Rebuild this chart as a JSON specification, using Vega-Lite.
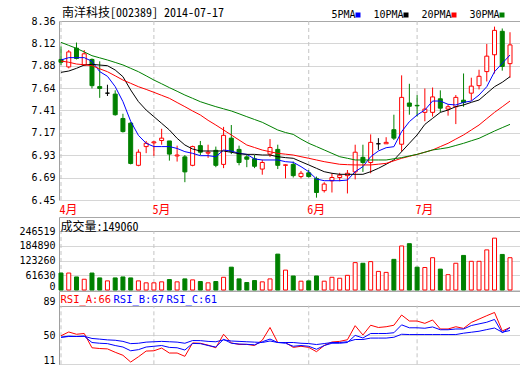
{
  "$schema": "https://vega.github.io/schema/vega-lite/v6.json",
  "width": 461,
  "height": 344,
  "autosize": "none",
  "padding": {"left": 59, "top": 21, "right": 0, "bottom": 0},
  "background": "white",
  "config": {
    "view": {"stroke": null},
    "axis": {"labelFont": "DejaVu Sans Mono", "labelFontSize": 10, "labelColor": "#000000"},
    "legend": {"labelFont": "DejaVu Sans Mono", "labelFontSize": 10}
  },
  "title": {
    "text": "南洋科技[002389] 2014-07-17",
    "anchor": "start",
    "frame": "group",
    "font": "Noto Sans Mono CJK SC, Noto Sans CJK SC",
    "fontSize": 12,
    "fontWeight": "normal",
    "color": "#000000",
    "offset": 4,
    "dx": 3,
    "dy": 14
  },
  "datasets": {
    "m": [
      {"d": "2014-04-15"}, {"d": "2014-05-05"}, {"d": "2014-06-03"}, {"d": "2014-07-01"}
    ],
    "k": [
      {"d":"2014-04-15","o":7.95,"h":8.09,"l":7.89,"c":7.92,"v":71200,"dir":"down","5PMA":7.944,"10PMA":7.812,"20PMA":7.933,"30PMA":8.132,"RSI_A":49,"RSI_B":47,"RSI_C":47},
      {"d":"2014-04-16","o":7.87,"h":8.05,"l":7.855,"c":8.03,"v":71200,"dir":"up","5PMA":7.969,"10PMA":7.826,"20PMA":7.92,"30PMA":8.10,"RSI_A":54,"RSI_B":48.5,"RSI_C":48},
      {"d":"2014-04-17","o":8.07,"h":8.13,"l":7.95,"c":7.96,"v":54800,"dir":"down","5PMA":7.969,"10PMA":7.855,"20PMA":7.901,"30PMA":8.068,"RSI_A":51,"RSI_B":48,"RSI_C":48},
      {"d":"2014-04-18","o":7.89,"h":8.05,"l":7.88,"c":8.01,"v":45200,"dir":"up","5PMA":7.969,"10PMA":7.89,"20PMA":7.893,"30PMA":8.03,"RSI_A":52,"RSI_B":48.5,"RSI_C":48.3},
      {"d":"2014-04-21","o":7.95,"h":7.96,"l":7.64,"c":7.67,"v":71200,"dir":"down","5PMA":7.93,"10PMA":7.898,"20PMA":7.883,"30PMA":7.99,"RSI_A":33,"RSI_B":40,"RSI_C":45.4},
      {"d":"2014-04-22","o":7.66,"h":7.93,"l":7.54,"c":7.64,"v":50700,"dir":"down","5PMA":7.82,"10PMA":7.89,"20PMA":7.85,"30PMA":7.967,"RSI_A":32,"RSI_B":39,"RSI_C":44.5},
      {"d":"2014-04-23","o":7.59,"h":7.68,"l":7.56,"c":7.59,"v":38300,"dir":"flat","5PMA":7.77,"10PMA":7.883,"20PMA":7.819,"30PMA":7.944,"RSI_A":31.5,"RSI_B":38.5,"RSI_C":43.5},
      {"d":"2014-04-24","o":7.58,"h":7.62,"l":7.35,"c":7.36,"v":50700,"dir":"down","5PMA":7.66,"10PMA":7.837,"20PMA":7.775,"30PMA":7.918,"RSI_A":27,"RSI_B":36,"RSI_C":43},
      {"d":"2014-04-25","o":7.32,"h":7.37,"l":7.17,"c":7.18,"v":54800,"dir":"down","5PMA":7.50,"10PMA":7.766,"20PMA":7.73,"30PMA":7.891,"RSI_A":23,"RSI_B":34,"RSI_C":41.5},
      {"d":"2014-04-28","o":7.27,"h":7.28,"l":6.83,"c":6.84,"v":50700,"dir":"down","5PMA":7.29,"10PMA":7.624,"20PMA":7.695,"30PMA":7.855,"RSI_A":14,"RSI_B":29,"RSI_C":38.5},
      {"d":"2014-04-29","o":6.82,"h":6.99,"l":6.81,"c":6.96,"v":38300,"dir":"up","5PMA":7.14,"10PMA":7.50,"20PMA":7.659,"30PMA":7.819,"RSI_A":21,"RSI_B":30.5,"RSI_C":39},
      {"d":"2014-04-30","o":7.02,"h":7.08,"l":6.95,"c":7.055,"v":30100,"dir":"up","5PMA":7.055,"10PMA":7.41,"20PMA":7.63,"30PMA":7.775,"RSI_A":28.6,"RSI_B":34,"RSI_C":40.5},
      {"d":"2014-05-05","o":7.06,"h":7.08,"l":6.92,"c":7.07,"v":30100,"dir":"up","5PMA":7.02,"10PMA":7.339,"20PMA":7.599,"30PMA":7.73,"RSI_A":29,"RSI_B":35,"RSI_C":41},
      {"d":"2014-05-06","o":7.085,"h":7.21,"l":7.04,"c":7.11,"v":34200,"dir":"up","5PMA":7.02,"10PMA":7.268,"20PMA":7.567,"30PMA":7.69,"RSI_A":32.6,"RSI_B":36,"RSI_C":41.5},
      {"d":"2014-05-07","o":7.08,"h":7.08,"l":6.87,"c":6.94,"v":43800,"dir":"down","5PMA":7.02,"10PMA":7.197,"20PMA":7.535,"30PMA":7.649,"RSI_A":26,"RSI_B":33.5,"RSI_C":41},
      {"d":"2014-05-08","o":6.92,"h":7.03,"l":6.86,"c":6.93,"v":34200,"dir":"up","5PMA":7.00,"10PMA":7.108,"20PMA":7.49,"30PMA":7.61,"RSI_A":26,"RSI_B":33,"RSI_C":40.5},
      {"d":"2014-05-09","o":6.91,"h":6.93,"l":6.64,"c":6.75,"v":46600,"dir":"down","5PMA":6.966,"10PMA":7.037,"20PMA":7.446,"30PMA":7.57,"RSI_A":21.6,"RSI_B":30,"RSI_C":39},
      {"d":"2014-05-12","o":6.82,"h":7.03,"l":6.81,"c":7.02,"v":42500,"dir":"up","5PMA":6.948,"10PMA":6.994,"20PMA":7.40,"30PMA":7.535,"RSI_A":39.4,"RSI_B":38.8,"RSI_C":42.6},
      {"d":"2014-05-13","o":7.03,"h":7.08,"l":6.93,"c":6.96,"v":35600,"dir":"down","5PMA":6.923,"10PMA":6.973,"20PMA":7.357,"30PMA":7.499,"RSI_A":39,"RSI_B":38.5,"RSI_C":42.5},
      {"d":"2014-05-14","o":6.95,"h":7.04,"l":6.90,"c":6.96,"v":30100,"dir":"up","5PMA":6.923,"10PMA":6.973,"20PMA":7.30,"30PMA":7.472,"RSI_A":36.5,"RSI_B":36,"RSI_C":41.5},
      {"d":"2014-05-15","o":6.98,"h":7.02,"l":6.80,"c":6.82,"v":35600,"dir":"down","5PMA":6.912,"10PMA":6.973,"20PMA":7.25,"30PMA":7.446,"RSI_A":33,"RSI_B":34,"RSI_C":41},
      {"d":"2014-05-16","o":6.83,"h":7.23,"l":6.79,"c":7.14,"v":53400,"dir":"up","5PMA":6.983,"10PMA":6.973,"20PMA":7.197,"30PMA":7.423,"RSI_A":51,"RSI_B":44.3,"RSI_C":43.5},
      {"d":"2014-05-19","o":7.11,"h":7.25,"l":6.94,"c":6.97,"v":95900,"dir":"down","5PMA":6.973,"10PMA":6.959,"20PMA":7.144,"30PMA":7.40,"RSI_A":39.4,"RSI_B":39,"RSI_C":42},
      {"d":"2014-05-20","o":6.99,"h":7.03,"l":6.82,"c":6.85,"v":46600,"dir":"down","5PMA":6.948,"10PMA":6.944,"20PMA":7.09,"30PMA":7.37,"RSI_A":37.5,"RSI_B":38,"RSI_C":41.5},
      {"d":"2014-05-21","o":6.91,"h":6.93,"l":6.80,"c":6.885,"v":31500,"dir":"down","5PMA":6.937,"10PMA":6.937,"20PMA":7.037,"30PMA":7.339,"RSI_A":37.5,"RSI_B":37.6,"RSI_C":41},
      {"d":"2014-05-22","o":6.89,"h":6.93,"l":6.79,"c":6.81,"v":39700,"dir":"down","5PMA":6.888,"10PMA":6.937,"20PMA":7.01,"30PMA":7.309,"RSI_A":36,"RSI_B":37,"RSI_C":40.5},
      {"d":"2014-05-23","o":6.78,"h":6.88,"l":6.72,"c":6.85,"v":34200,"dir":"up","5PMA":6.877,"10PMA":6.93,"20PMA":6.983,"30PMA":7.279,"RSI_A":43,"RSI_B":41,"RSI_C":40},
      {"d":"2014-05-26","o":6.94,"h":7.10,"l":6.91,"c":7.01,"v":46600,"dir":"up","5PMA":6.877,"10PMA":6.93,"20PMA":6.965,"30PMA":7.238,"RSI_A":60,"RSI_B":44.6,"RSI_C":42},
      {"d":"2014-05-27","o":6.99,"h":7.04,"l":6.78,"c":6.82,"v":150700,"dir":"down","5PMA":6.877,"10PMA":6.912,"20PMA":6.948,"30PMA":7.197,"RSI_A":40,"RSI_B":40,"RSI_C":40},
      {"d":"2014-05-28","o":6.82,"h":6.83,"l":6.68,"c":6.825,"v":83500,"dir":"up","5PMA":6.859,"10PMA":6.902,"20PMA":6.939,"30PMA":7.17,"RSI_A":40,"RSI_B":39,"RSI_C":40},
      {"d":"2014-05-29","o":6.83,"h":6.86,"l":6.69,"c":6.71,"v":58900,"dir":"down","5PMA":6.852,"10PMA":6.895,"20PMA":6.93,"30PMA":7.15,"RSI_A":33.5,"RSI_B":35,"RSI_C":40},
      {"d":"2014-05-30","o":6.70,"h":6.76,"l":6.68,"c":6.735,"v":37000,"dir":"up","5PMA":6.806,"10PMA":6.859,"20PMA":6.912,"30PMA":7.10,"RSI_A":35,"RSI_B":36,"RSI_C":39},
      {"d":"2014-06-03","o":6.74,"h":6.77,"l":6.69,"c":6.70,"v":38300,"dir":"down","5PMA":6.752,"10PMA":6.824,"20PMA":6.895,"30PMA":7.055,"RSI_A":33.5,"RSI_B":35,"RSI_C":38.6},
      {"d":"2014-06-04","o":6.68,"h":6.70,"l":6.475,"c":6.53,"v":58900,"dir":"down","5PMA":6.674,"10PMA":6.788,"20PMA":6.877,"30PMA":7.02,"RSI_A":27.8,"RSI_B":31,"RSI_C":37.3},
      {"d":"2014-06-05","o":6.55,"h":6.64,"l":6.53,"c":6.62,"v":37000,"dir":"up","5PMA":6.656,"10PMA":6.752,"20PMA":6.859,"30PMA":6.984,"RSI_A":36,"RSI_B":36,"RSI_C":38.6},
      {"d":"2014-06-06","o":6.655,"h":6.735,"l":6.53,"c":6.69,"v":53400,"dir":"up","5PMA":6.656,"10PMA":6.735,"20PMA":6.845,"30PMA":6.948,"RSI_A":40.7,"RSI_B":39,"RSI_C":40},
      {"d":"2014-06-09","o":6.69,"h":6.74,"l":6.65,"c":6.715,"v":49300,"dir":"up","5PMA":6.656,"10PMA":6.724,"20PMA":6.831,"30PMA":6.912,"RSI_A":41.5,"RSI_B":39,"RSI_C":40},
      {"d":"2014-06-10","o":6.71,"h":6.77,"l":6.52,"c":6.735,"v":61600,"dir":"up","5PMA":6.663,"10PMA":6.724,"20PMA":6.827,"30PMA":6.895,"RSI_A":43.7,"RSI_B":40,"RSI_C":41},
      {"d":"2014-06-11","o":6.75,"h":7.04,"l":6.67,"c":6.96,"v":115000,"dir":"up","5PMA":6.752,"10PMA":6.724,"20PMA":6.824,"30PMA":6.877,"RSI_A":62.4,"RSI_B":49.5,"RSI_C":44},
      {"d":"2014-06-12","o":6.905,"h":7.04,"l":6.75,"c":6.85,"v":112300,"dir":"down","5PMA":6.806,"10PMA":6.724,"20PMA":6.824,"30PMA":6.877,"RSI_A":50,"RSI_B":46,"RSI_C":44},
      {"d":"2014-06-13","o":6.85,"h":7.15,"l":6.735,"c":7.065,"v":119200,"dir":"up","5PMA":6.912,"10PMA":6.752,"20PMA":6.824,"30PMA":6.877,"RSI_A":63,"RSI_B":52,"RSI_C":45.9},
      {"d":"2014-06-16","o":7.05,"h":7.11,"l":6.985,"c":7.05,"v":78100,"dir":"flat","5PMA":6.973,"10PMA":6.788,"20PMA":6.832,"30PMA":6.877,"RSI_A":60,"RSI_B":52,"RSI_C":45.9},
      {"d":"2014-06-17","o":7.05,"h":7.12,"l":7.05,"c":7.065,"v":74000,"dir":"up","5PMA":7.008,"10PMA":6.831,"20PMA":6.841,"30PMA":6.877,"RSI_A":61,"RSI_B":52,"RSI_C":45.9},
      {"d":"2014-06-18","o":7.20,"h":7.36,"l":7.09,"c":7.11,"v":128700,"dir":"down","5PMA":7.019,"10PMA":6.877,"20PMA":6.868,"30PMA":6.89,"RSI_A":63,"RSI_B":53,"RSI_C":47},
      {"d":"2014-06-19","o":7.045,"h":7.78,"l":6.965,"c":7.545,"v":184900,"dir":"up","5PMA":7.179,"10PMA":6.966,"20PMA":6.895,"30PMA":6.902,"RSI_A":76.6,"RSI_B":63.5,"RSI_C":51},
      {"d":"2014-06-20","o":7.485,"h":7.69,"l":7.36,"c":7.45,"v":194500,"dir":"down","5PMA":7.286,"10PMA":7.055,"20PMA":6.916,"30PMA":6.92,"RSI_A":68.6,"RSI_B":59.6,"RSI_C":50.6},
      {"d":"2014-07-01","o":7.46,"h":7.57,"l":7.34,"c":7.455,"v":95900,"dir":"down","5PMA":7.357,"10PMA":7.144,"20PMA":6.937,"30PMA":6.937,"RSI_A":68.6,"RSI_B":59.6,"RSI_C":50.6},
      {"d":"2014-07-02","o":7.385,"h":7.64,"l":7.29,"c":7.42,"v":94500,"dir":"up","5PMA":7.41,"10PMA":7.257,"20PMA":6.96,"30PMA":6.96,"RSI_A":65.5,"RSI_B":59,"RSI_C":50.6},
      {"d":"2014-07-03","o":7.385,"h":7.65,"l":7.34,"c":7.55,"v":135600,"dir":"up","5PMA":7.506,"10PMA":7.321,"20PMA":6.984,"30PMA":6.984,"RSI_A":70,"RSI_B":60.7,"RSI_C":50.6},
      {"d":"2014-07-04","o":7.53,"h":7.62,"l":7.385,"c":7.43,"v":87700,"dir":"down","5PMA":7.506,"10PMA":7.385,"20PMA":7.02,"30PMA":6.996,"RSI_A":58,"RSI_B":57,"RSI_C":50.6},
      {"d":"2014-07-07","o":7.42,"h":7.47,"l":7.35,"c":7.445,"v":64400,"dir":"up","5PMA":7.471,"10PMA":7.41,"20PMA":7.055,"30PMA":7.009,"RSI_A":58,"RSI_B":57,"RSI_C":50.6},
      {"d":"2014-07-08","o":7.445,"h":7.57,"l":7.26,"c":7.545,"v":112300,"dir":"up","5PMA":7.464,"10PMA":7.446,"20PMA":7.10,"30PMA":7.032,"RSI_A":61,"RSI_B":58,"RSI_C":50.6},
      {"d":"2014-07-09","o":7.515,"h":7.80,"l":7.445,"c":7.49,"v":145200,"dir":"down","5PMA":7.492,"10PMA":7.464,"20PMA":7.144,"30PMA":7.055,"RSI_A":58.8,"RSI_B":58,"RSI_C":52.4},
      {"d":"2014-07-10","o":7.59,"h":7.755,"l":7.51,"c":7.665,"v":120500,"dir":"up","5PMA":7.506,"10PMA":7.492,"20PMA":7.197,"30PMA":7.082,"RSI_A":66.7,"RSI_B":62.6,"RSI_C":53.7},
      {"d":"2014-07-11","o":7.67,"h":7.84,"l":7.63,"c":7.77,"v":120500,"dir":"up","5PMA":7.57,"10PMA":7.517,"20PMA":7.25,"30PMA":7.108,"RSI_A":71.2,"RSI_B":64.8,"RSI_C":55},
      {"d":"2014-07-14","o":7.82,"h":8.115,"l":7.715,"c":7.985,"v":168500,"dir":"up","5PMA":7.659,"10PMA":7.588,"20PMA":7.318,"30PMA":7.147,"RSI_A":75.7,"RSI_B":67,"RSI_C":57.2},
      {"d":"2014-07-15","o":8.00,"h":8.30,"l":7.80,"c":8.26,"v":217800,"dir":"up","5PMA":7.819,"10PMA":7.659,"20PMA":7.385,"30PMA":7.186,"RSI_A":80,"RSI_B":70.7,"RSI_C":59.3},
      {"d":"2014-07-16","o":8.25,"h":8.28,"l":7.83,"c":7.875,"v":149300,"dir":"down","5PMA":7.908,"10PMA":7.706,"20PMA":7.445,"30PMA":7.222,"RSI_A":55.4,"RSI_B":53,"RSI_C":53.7},
      {"d":"2014-07-17","o":7.905,"h":8.24,"l":7.755,"c":8.105,"v":135600,"dir":"up","5PMA":7.997,"10PMA":7.766,"20PMA":7.506,"30PMA":7.257,"RSI_A":60,"RSI_B":59.8,"RSI_C":56}
    ]
  },
  "layer": [
    {
      "layer": [
        {
          "data": {"name": "m"},
          "mark": {"type": "rule", "stroke": "#c4c4c4", "strokeWidth": 1, "strokeDash": [4, 3]},
          "encoding": {
            "x": {
              "field": "d", "type": "ordinal",
              "scale": {"type": "point", "padding": 0.775, "align": 0.167},
              "axis": {"orient": "bottom", "offset": -165, "values": ["2014-04-15", "2014-05-05", "2014-06-03", "2014-07-01"], "labelExpr": "toNumber(substring(datum.value, 5, 7)) + '月'", "labelColor": "#ff0000", "labelFont": "Noto Sans Mono CJK SC, Noto Sans CJK SC", "labelFontSize": 12, "labelAlign": "left", "labelBaseline": "top", "labelPadding": 4, "labelOffset": -2, "labelAngle": 0, "labelOverlap": false, "labelFlush": false, "domain": false, "ticks": false, "grid": false, "title": null}
            },
            "y": {
              "datum": 6.45, "type": "quantitative",
              "scale": {"domain": [6.45, 8.36], "range": [179, 0], "zero": false, "nice": false},
              "axis": {"orient": "left", "values": [6.45, 6.69, 6.93, 7.17, 7.41, 7.64, 7.88, 8.12, 8.36], "format": ".2f", "title": null, "ticks": false, "labelPadding": 4, "domainColor": "#a0a0a0", "grid": true, "gridColor": {"condition": {"test": "datum.value == 8.36", "value": "#a8a8a8"}, "value": "#d6d6d6"}}
            },
            "y2": {"datum": 8.36}
          }
        },
        {
          "data": {"name": "k"},
          "mark": {"type": "rule", "strokeWidth": 1},
          "encoding": {
            "x": {
              "field": "d", "type": "ordinal",
              "axis": {"orient": "bottom", "offset": -165, "values": ["2014-04-15", "2014-05-05", "2014-06-03", "2014-07-01"], "labelExpr": "toNumber(substring(datum.value, 5, 7)) + '月'", "labelColor": "#ff0000", "labelFont": "Noto Sans Mono CJK SC, Noto Sans CJK SC", "labelFontSize": 12, "labelAlign": "left", "labelBaseline": "top", "labelPadding": 4, "labelOffset": -2, "labelAngle": 0, "labelOverlap": false, "labelFlush": false, "domain": false, "ticks": false, "grid": false, "title": null}
            },
            "y": {
              "field": "l", "type": "quantitative",
              "axis": {"orient": "left", "values": [6.45, 6.69, 6.93, 7.17, 7.41, 7.64, 7.88, 8.12, 8.36], "format": ".2f", "title": null, "ticks": false, "labelPadding": 4, "domainColor": "#a0a0a0", "grid": true, "gridColor": {"condition": {"test": "datum.value == 8.36", "value": "#a8a8a8"}, "value": "#d6d6d6"}}
            },
            "y2": {"field": "h"},
            "stroke": {"field": "dir", "type": "nominal", "scale": {"domain": ["up", "down", "flat"], "range": ["#ff0000", "#008000", "#000000"]}, "legend": null}
          }
        },
        {
          "data": {"name": "k"},
          "mark": {"type": "bar", "width": 4, "strokeWidth": 1},
          "encoding": {
            "x": {
              "field": "d", "type": "ordinal",
              "axis": {"orient": "bottom", "offset": -165, "values": ["2014-04-15", "2014-05-05", "2014-06-03", "2014-07-01"], "labelExpr": "toNumber(substring(datum.value, 5, 7)) + '月'", "labelColor": "#ff0000", "labelFont": "Noto Sans Mono CJK SC, Noto Sans CJK SC", "labelFontSize": 12, "labelAlign": "left", "labelBaseline": "top", "labelPadding": 4, "labelOffset": -2, "labelAngle": 0, "labelOverlap": false, "labelFlush": false, "domain": false, "ticks": false, "grid": false, "title": null}
            },
            "y": {
              "field": "o", "type": "quantitative",
              "axis": {"orient": "left", "values": [6.45, 6.69, 6.93, 7.17, 7.41, 7.64, 7.88, 8.12, 8.36], "format": ".2f", "title": null, "ticks": false, "labelPadding": 4, "domainColor": "#a0a0a0", "grid": true, "gridColor": {"condition": {"test": "datum.value == 8.36", "value": "#a8a8a8"}, "value": "#d6d6d6"}}
            },
            "y2": {"field": "c"},
            "fill": {"field": "dir", "type": "nominal", "scale": {"domain": ["up", "down", "flat"], "range": ["#ffffff", "#008000", "#000000"]}, "legend": null},
            "stroke": {"field": "dir", "type": "nominal", "scale": {"domain": ["up", "down", "flat"], "range": ["#ff0000", "#008000", "#000000"]}, "legend": null}
          }
        },
        {
          "data": {"name": "k"},
          "transform": [{"fold": ["5PMA", "10PMA", "20PMA", "30PMA"], "as": ["ma", "mv"]}],
          "mark": {"type": "line", "strokeWidth": 1},
          "encoding": {
            "x": {
              "field": "d", "type": "ordinal",
              "axis": {"orient": "bottom", "offset": -165, "values": ["2014-04-15", "2014-05-05", "2014-06-03", "2014-07-01"], "labelExpr": "toNumber(substring(datum.value, 5, 7)) + '月'", "labelColor": "#ff0000", "labelFont": "Noto Sans Mono CJK SC, Noto Sans CJK SC", "labelFontSize": 12, "labelAlign": "left", "labelBaseline": "top", "labelPadding": 4, "labelOffset": -2, "labelAngle": 0, "labelOverlap": false, "labelFlush": false, "domain": false, "ticks": false, "grid": false, "title": null}
            },
            "y": {
              "field": "mv", "type": "quantitative",
              "axis": {"orient": "left", "values": [6.45, 6.69, 6.93, 7.17, 7.41, 7.64, 7.88, 8.12, 8.36], "format": ".2f", "title": null, "ticks": false, "labelPadding": 4, "domainColor": "#a0a0a0", "grid": true, "gridColor": {"condition": {"test": "datum.value == 8.36", "value": "#a8a8a8"}, "value": "#d6d6d6"}}
            },
            "color": {
              "field": "ma", "type": "nominal",
              "scale": {"domain": ["5PMA", "10PMA", "20PMA", "30PMA"], "range": ["#0000ff", "#000000", "#ff0000", "#008000"]},
              "legend": {
                "orient": "none", "legendX": 294, "legendY": -11,
                "direction": "horizontal", "title": null,
                "symbolType": "square", "symbolSize": 4, "symbolStrokeWidth": 3,
                "labelAlign": "right", "labelOffset": -7.5, "columnPadding": 8,
                "labelFont": "DejaVu Sans Mono", "labelFontSize": 10, "labelColor": "#000000"
              }
            }
          }
        }
      ]
    },
    {
      "layer": [
        {
          "data": {"name": "m"},
          "mark": {"type": "rule", "stroke": "#c4c4c4", "strokeWidth": 1, "strokeDash": [4, 3]},
          "encoding": {
            "x": {
              "field": "d", "type": "ordinal",
              "axis": {"orient": "bottom", "offset": -165, "values": ["2014-04-15", "2014-05-05", "2014-06-03", "2014-07-01"], "labelExpr": "toNumber(substring(datum.value, 5, 7)) + '月'", "labelColor": "#ff0000", "labelFont": "Noto Sans Mono CJK SC, Noto Sans CJK SC", "labelFontSize": 12, "labelAlign": "left", "labelBaseline": "top", "labelPadding": 4, "labelOffset": -2, "labelAngle": 0, "labelOverlap": false, "labelFlush": false, "domain": false, "ticks": false, "grid": false, "title": null}
            },
            "y": {
              "datum": 0, "type": "quantitative",
              "scale": {"domain": [0, 306577], "range": [269, 196], "nice": false},
              "axis": {"orient": "left", "values": [0, 61630, 123260, 184890, 246519, 306577], "format": "d", "labelExpr": "datum.value > 300000 ? '' : datum.label", "ticks": false, "labelPadding": 4, "labelOffset": {"condition": {"test": "datum.value == 0", "value": -4}, "value": 0}, "domainColor": "#a0a0a0", "grid": true, "gridColor": {"condition": {"test": "datum.value >= 246519", "value": "#a8a8a8"}, "value": "#d6d6d6"}, "title": "成交量:149060", "titleAngle": 0, "titleAlign": "left", "titleBaseline": "middle", "titleX": 1, "titleY": 205, "titleFont": "Noto Sans Mono CJK SC, Noto Sans CJK SC", "titleFontSize": 12, "titleFontWeight": "normal", "titleColor": "#000000"}
            },
            "y2": {"datum": 246519}
          }
        },
        {
          "data": {"name": "k"},
          "mark": {"type": "bar", "width": 4, "strokeWidth": 1},
          "encoding": {
            "x": {
              "field": "d", "type": "ordinal",
              "axis": {"orient": "bottom", "offset": -165, "values": ["2014-04-15", "2014-05-05", "2014-06-03", "2014-07-01"], "labelExpr": "toNumber(substring(datum.value, 5, 7)) + '月'", "labelColor": "#ff0000", "labelFont": "Noto Sans Mono CJK SC, Noto Sans CJK SC", "labelFontSize": 12, "labelAlign": "left", "labelBaseline": "top", "labelPadding": 4, "labelOffset": -2, "labelAngle": 0, "labelOverlap": false, "labelFlush": false, "domain": false, "ticks": false, "grid": false, "title": null}
            },
            "y": {
              "field": "v", "type": "quantitative",
              "axis": {"orient": "left", "values": [0, 61630, 123260, 184890, 246519, 306577], "format": "d", "labelExpr": "datum.value > 300000 ? '' : datum.label", "ticks": false, "labelPadding": 4, "labelOffset": {"condition": {"test": "datum.value == 0", "value": -4}, "value": 0}, "domainColor": "#a0a0a0", "grid": true, "gridColor": {"condition": {"test": "datum.value >= 246519", "value": "#a8a8a8"}, "value": "#d6d6d6"}, "title": "成交量:149060", "titleAngle": 0, "titleAlign": "left", "titleBaseline": "middle", "titleX": 1, "titleY": 205, "titleFont": "Noto Sans Mono CJK SC, Noto Sans CJK SC", "titleFontSize": 12, "titleFontWeight": "normal", "titleColor": "#000000"}
            },
            "fill": {"field": "dir", "type": "nominal", "scale": {"domain": ["up", "flat", "down"], "range": ["#ffffff", "#ffffff", "#008000"]}, "legend": null},
            "stroke": {"field": "dir", "type": "nominal", "scale": {"domain": ["up", "flat", "down"], "range": ["#ff0000", "#ff0000", "#008000"]}, "legend": null}
          }
        }
      ]
    },
    {
      "layer": [
        {
          "data": {"name": "m"},
          "mark": {"type": "rule", "stroke": "#c4c4c4", "strokeWidth": 1, "strokeDash": [4, 3]},
          "encoding": {
            "x": {
              "field": "d", "type": "ordinal",
              "axis": {"orient": "bottom", "offset": -165, "values": ["2014-04-15", "2014-05-05", "2014-06-03", "2014-07-01"], "labelExpr": "toNumber(substring(datum.value, 5, 7)) + '月'", "labelColor": "#ff0000", "labelFont": "Noto Sans Mono CJK SC, Noto Sans CJK SC", "labelFontSize": 12, "labelAlign": "left", "labelBaseline": "top", "labelPadding": 4, "labelOffset": -2, "labelAngle": 0, "labelOverlap": false, "labelFlush": false, "domain": false, "ticks": false, "grid": false, "title": null}
            },
            "y": {
              "datum": 11, "type": "quantitative",
              "scale": {"domain": [11, 108.57], "range": [343.3, 270], "zero": false, "nice": false},
              "axis": {"orient": "left", "values": [11, 50, 89, 108.57], "labelExpr": "datum.value > 100 ? '' : datum.label", "ticks": false, "labelPadding": 4, "labelOffset": {"condition": {"test": "datum.value != 50", "value": -4}, "value": 0}, "domainColor": "#a0a0a0", "grid": true, "gridColor": {"condition": {"test": "datum.value >= 89", "value": "#a8a8a8"}, "value": "#d6d6d6"}, "title": null}
            },
            "y2": {"datum": 89}
          }
        },
        {
          "data": {"name": "k"},
          "transform": [{"fold": ["RSI_A", "RSI_B", "RSI_C"], "as": ["rs", "rv"]}],
          "mark": {"type": "line", "strokeWidth": 1},
          "encoding": {
            "x": {
              "field": "d", "type": "ordinal",
              "axis": {"orient": "bottom", "offset": -165, "values": ["2014-04-15", "2014-05-05", "2014-06-03", "2014-07-01"], "labelExpr": "toNumber(substring(datum.value, 5, 7)) + '月'", "labelColor": "#ff0000", "labelFont": "Noto Sans Mono CJK SC, Noto Sans CJK SC", "labelFontSize": 12, "labelAlign": "left", "labelBaseline": "top", "labelPadding": 4, "labelOffset": -2, "labelAngle": 0, "labelOverlap": false, "labelFlush": false, "domain": false, "ticks": false, "grid": false, "title": null}
            },
            "y": {
              "field": "rv", "type": "quantitative",
              "axis": {"orient": "left", "values": [11, 50, 89, 108.57], "labelExpr": "datum.value > 100 ? '' : datum.label", "ticks": false, "labelPadding": 4, "labelOffset": {"condition": {"test": "datum.value != 50", "value": -4}, "value": 0}, "domainColor": "#a0a0a0", "grid": true, "gridColor": {"condition": {"test": "datum.value >= 89", "value": "#a8a8a8"}, "value": "#d6d6d6"}, "title": null}
            },
            "color": {
              "field": "rs", "type": "nominal",
              "scale": {"domain": ["RSI_A", "RSI_B", "RSI_C"], "range": ["#ff0000", "#0000ff", "#0000ff"]},
              "legend": {
                "orient": "none", "legendX": 1, "legendY": 274,
                "direction": "horizontal", "title": null,
                "symbolSize": 0, "symbolStrokeWidth": 0, "symbolOpacity": 0,
                "labelOffset": -10, "columnPadding": 1,
                "labelFont": "DejaVu Sans Mono", "labelFontSize": 10.5,
                "labelColor": {"expr": "datum.value == 'RSI_A' ? '#ff0000' : '#0000ff'"},
                "labelExpr": "datum.value == 'RSI_A' ? 'RSI_A:66' : (datum.value == 'RSI_B' ? 'RSI_B:67' : 'RSI_C:61')"
              }
            }
          }
        }
      ]
    }
  ],
  "resolve": {"scale": {"y": "independent", "color": "independent", "fill": "independent", "stroke": "independent"}}
}
